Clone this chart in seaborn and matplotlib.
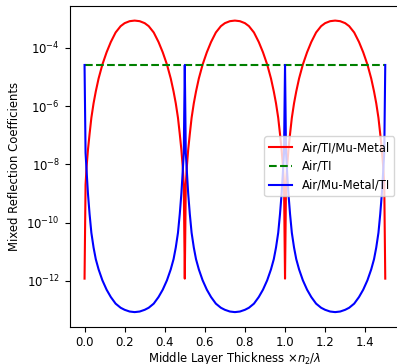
import numpy as np
import pandas as pd
import matplotlib
matplotlib.use('Agg')
import matplotlib.pyplot as plt
from matplotlib.ticker import MultipleLocator
import seaborn as sns

# thickness samples (x n2 / lambda)
thickness = [
    0.0, 0.005, 0.01, 0.017, 0.025, 0.034, 0.045, 0.056, 0.07, 0.089, 0.11, 0.131, 0.155, 0.18, 0.2, 0.225,
    0.25, 0.275, 0.3, 0.32, 0.345, 0.369, 0.39, 0.411, 0.43, 0.444, 0.455, 0.466, 0.475, 0.483, 0.49, 0.495,
    0.5, 0.505, 0.51, 0.517, 0.525, 0.534, 0.545, 0.556, 0.57, 0.589, 0.61, 0.631, 0.655, 0.68, 0.7, 0.725,
    0.75, 0.775, 0.8, 0.82, 0.845, 0.869, 0.89, 0.911, 0.93, 0.944, 0.955, 0.966, 0.975, 0.983, 0.99, 0.995,
    1.0, 1.005, 1.01, 1.017, 1.025, 1.034, 1.045, 1.056, 1.07, 1.089, 1.11, 1.131, 1.155, 1.18, 1.2, 1.225,
    1.25, 1.275, 1.3, 1.32, 1.345, 1.369, 1.39, 1.411, 1.43, 1.444, 1.455, 1.466, 1.475, 1.483, 1.49, 1.495,
    1.5,
]

air_ti_mu = [
    1.2e-12, 2.0e-9, 7.9e-9, 3.2e-8, 1.1e-7, 4.0e-7, 1.26e-6, 3.2e-6, 8.9e-6, 2.7e-5, 7.1e-5, 1.6e-4, 3.4e-4, 5.6e-4, 7.1e-4, 8.3e-4,
    8.7e-4, 8.3e-4, 7.1e-4, 5.6e-4, 3.4e-4, 1.6e-4, 7.1e-5, 2.7e-5, 8.9e-6, 3.2e-6, 1.26e-6, 4.0e-7, 1.1e-7, 3.2e-8, 7.9e-9, 2.0e-9,
    1.2e-12, 2.0e-9, 7.9e-9, 3.2e-8, 1.1e-7, 4.0e-7, 1.26e-6, 3.2e-6, 8.9e-6, 2.7e-5, 7.1e-5, 1.6e-4, 3.4e-4, 5.6e-4, 7.1e-4, 8.3e-4,
    8.7e-4, 8.3e-4, 7.1e-4, 5.6e-4, 3.4e-4, 1.6e-4, 7.1e-5, 2.7e-5, 8.9e-6, 3.2e-6, 1.26e-6, 4.0e-7, 1.1e-7, 3.2e-8, 7.9e-9, 2.0e-9,
    1.2e-12, 2.0e-9, 7.9e-9, 3.2e-8, 1.1e-7, 4.0e-7, 1.26e-6, 3.2e-6, 8.9e-6, 2.7e-5, 7.1e-5, 1.6e-4, 3.4e-4, 5.6e-4, 7.1e-4, 8.3e-4,
    8.7e-4, 8.3e-4, 7.1e-4, 5.6e-4, 3.4e-4, 1.6e-4, 7.1e-5, 2.7e-5, 8.9e-6, 3.2e-6, 1.26e-6, 4.0e-7, 1.1e-7, 3.2e-8, 7.9e-9, 2.0e-9,
    1.2e-12,
]

air_ti = [2.6e-5] * 97

air_mu_ti = [
    2.6e-5, 2.5e-8, 6.3e-9, 1.0e-9, 2.0e-10, 4.5e-11, 1.4e-11, 5.6e-12, 2.5e-12, 1.05e-12, 5.0e-13, 2.8e-13, 1.66e-13, 1.2e-13, 1.02e-13, 8.9e-14,
    8.5e-14, 8.9e-14, 1.02e-13, 1.2e-13, 1.66e-13, 2.8e-13, 5.0e-13, 1.05e-12, 2.5e-12, 5.6e-12, 1.4e-11, 4.5e-11, 2.0e-10, 1.0e-9, 6.3e-9, 2.5e-8,
    2.6e-5, 2.5e-8, 6.3e-9, 1.0e-9, 2.0e-10, 4.5e-11, 1.4e-11, 5.6e-12, 2.5e-12, 1.05e-12, 5.0e-13, 2.8e-13, 1.66e-13, 1.2e-13, 1.02e-13, 8.9e-14,
    8.5e-14, 8.9e-14, 1.02e-13, 1.2e-13, 1.66e-13, 2.8e-13, 5.0e-13, 1.05e-12, 2.5e-12, 5.6e-12, 1.4e-11, 4.5e-11, 2.0e-10, 1.0e-9, 6.3e-9, 2.5e-8,
    2.6e-5, 2.5e-8, 6.3e-9, 1.0e-9, 2.0e-10, 4.5e-11, 1.4e-11, 5.6e-12, 2.5e-12, 1.05e-12, 5.0e-13, 2.8e-13, 1.66e-13, 1.2e-13, 1.02e-13, 8.9e-14,
    8.5e-14, 8.9e-14, 1.02e-13, 1.2e-13, 1.66e-13, 2.8e-13, 5.0e-13, 1.05e-12, 2.5e-12, 5.6e-12, 1.4e-11, 4.5e-11, 2.0e-10, 1.0e-9, 6.3e-9, 2.5e-8,
    2.6e-5,
]

df = pd.DataFrame({'x': thickness, 'red': air_ti_mu, 'green': air_ti, 'blue': air_mu_ti})

plt.rcParams['font.size'] = 8.4

fig = plt.figure(figsize=(3.97, 3.64), dpi=100)
# axes runs a bit past the right edge, like the cropped original
ax = fig.add_axes([0.1751, 0.1025, 0.8332, 0.881])

sns.lineplot(data=df, x='x', y='red', color='red', label='Air/TI/Mu-Metal',
             estimator=None, sort=False, linewidth=1.5, ax=ax)
sns.lineplot(data=df, x='x', y='green', color='green', linestyle='--', label='Air/TI',
             estimator=None, sort=False, linewidth=1.5, ax=ax)
sns.lineplot(data=df, x='x', y='blue', color='blue', label='Air/Mu-Metal/TI',
             estimator=None, sort=False, linewidth=1.5, ax=ax)

ax.set_yscale('log')
ax.xaxis.set_major_locator(MultipleLocator(0.2))
ax.set_xlabel(r'Middle Layer Thickness $\times n_2/\lambda$', labelpad=0.5)
ax.set_ylabel('Mixed Reflection Coefficients')
ax.legend(loc='center right')

fig.savefig('out.png', dpi=100)
